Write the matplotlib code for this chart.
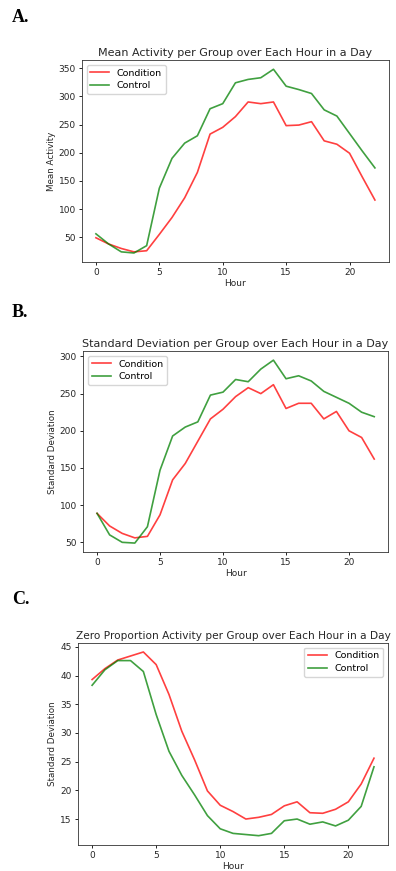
import numpy as np
import matplotlib.pyplot as plt

# Hours of the day
hours = np.arange(23)

# A. Mean activity
mean_condition = [49, 38, 30, 24, 26, 55, 85, 120, 165, 233, 245, 264, 290, 287, 290,
                  248, 249, 255, 221, 215, 199, 157, 116]
mean_control = [56, 38, 24, 22, 35, 137, 190, 217, 230, 278, 287, 324, 330, 333, 348,
                318, 312, 305, 276, 265, 234, 203, 173]

# B. Standard deviation
std_condition = [89, 72, 62, 56, 58, 87, 134, 156, 186, 216, 229, 246, 258, 250, 262,
                 230, 237, 237, 216, 226, 200, 191, 162]
std_control = [89, 60, 50, 49, 71, 147, 193, 205, 212, 248, 252, 269, 266, 283, 295,
               270, 274, 267, 253, 245, 237, 225, 219]

# C. Zero proportion
zero_condition = [39.3, 41.2, 42.7, 43.4, 44.1, 41.9, 36.7, 30.3, 25.3, 19.9, 17.4, 16.3,
                  15.0, 15.3, 15.8, 17.3, 18.0, 16.1, 16.0, 16.7, 18.0, 21.1, 25.6]
zero_control = [38.3, 41.0, 42.6, 42.6, 40.7, 33.2, 26.8, 22.6, 19.2, 15.6, 13.3, 12.5,
                12.3, 12.1, 12.5, 14.7, 15.0, 14.1, 14.5, 13.8, 14.8, 17.2, 24.1]

panels = [
    ("A.", "Mean Activity per Group over Each Hour in a Day", "Mean Activity",
     mean_condition, mean_control, "upper left", [0.207, 0.699, 0.775, 0.232], 0.990, 8.0),
    ("B.", "Standard Deviation per Group over Each Hour in a Day", "Standard Deviation",
     std_condition, std_control, "upper left", [0.210, 0.366, 0.770, 0.231], 0.651, 8.0),
    ("C.", "Zero Proportion Activity per Group over Each Hour in a Day", "Standard Deviation",
     zero_condition, zero_control, "upper right", [0.197, 0.030, 0.783, 0.232], 0.322, 7.6),
]

text_col = "#262626"
fig = plt.figure(figsize=(3.96, 8.71), dpi=100)

for letter, title, ylabel, cond, ctrl, loc, rect, ly, tsize in panels:
    ax = fig.add_axes(rect)
    ax.plot(hours, cond, color="red", alpha=0.75, lw=1.2, label="Condition")
    ax.plot(hours, ctrl, color="green", alpha=0.75, lw=1.2, label="Control")
    ax.set_title(title, fontsize=tsize, color=text_col, pad=3)
    ax.set_xlabel("Hour", fontsize=6.5, color=text_col, labelpad=1)
    ax.set_ylabel(ylabel, fontsize=6.3, color=text_col, labelpad=2)
    ax.set_xticks([0, 5, 10, 15, 20])
    ax.tick_params(labelsize=6.5, labelcolor=text_col, length=2.5, width=0.6, pad=2)
    for s in ax.spines.values():
        s.set_linewidth(0.6)
        s.set_color("#333333")
    ax.legend(loc=loc, fontsize=6.8, handlelength=2.0, borderpad=0.4, labelspacing=0.4,
              framealpha=0.8)
    fig.text(0.03, ly, letter, fontsize=13, fontweight="bold",
             family="Liberation Serif", va="top", ha="left")

fig.savefig("out.png", dpi=100)
